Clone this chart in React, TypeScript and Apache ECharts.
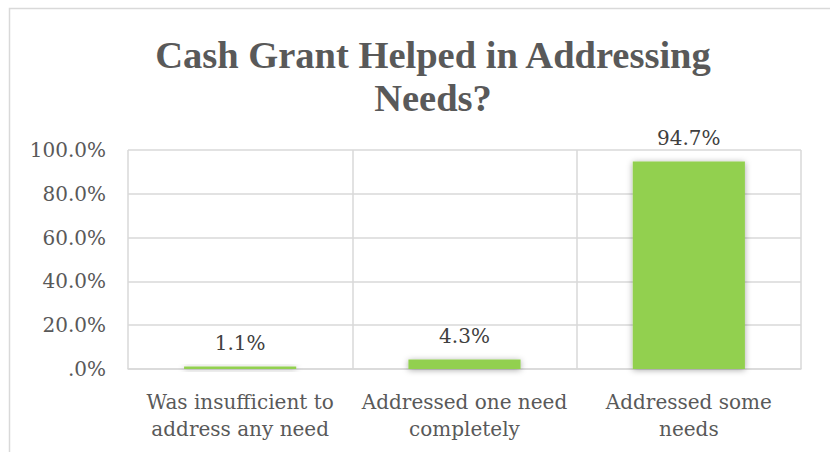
import React, { useEffect, useRef } from "react";
import * as echarts from "echarts";

const titleLines = ["Cash Grant Helped in Addressing", "Needs?"];
const categories = [
  "Was insufficient to\naddress any need",
  "Addressed one need\ncompletely",
  "Addressed some\nneeds",
];
const values = [0.011, 0.043, 0.947];
const yTicks = [0, 0.2, 0.4, 0.6, 0.8, 1.0];

const fmtPct = (v: number) => {
  const s = (v * 100).toFixed(1) + "%";
  return s.startsWith("0.") ? s.slice(1) : s;
};

const REG = "'DejaVu Serif', serif";
const BOLD = "'Liberation Serif', serif";

export default function App() {
  const ref = useRef<HTMLDivElement>(null);
  useEffect(() => {
    if (!ref.current) return;
    const chart = echarts.init(ref.current, undefined, { renderer: "svg" });
    chart.setOption({
      animation: false,
      backgroundColor: "#ffffff",
      graphic: [
        {
          type: "rect",
          shape: { x: 9.5, y: 8.5, width: 1000, height: 800 },
          style: { fill: "none", stroke: "#D9D9D9", lineWidth: 1.5 },
          silent: true,
        },
      ],
      title: {
        text: titleLines.join("\n"),
        left: 428,
        top: 28,
        textAlign: "center",
        textStyle: {
          fontFamily: BOLD,
          fontWeight: "bold",
          fontSize: 38.5,
          lineHeight: 43,
          color: "#595959",
        },
      },
      grid: { left: 128, right: 29, top: 150, bottom: 83, containLabel: false },
      xAxis: {
        type: "category",
        data: categories,
        axisTick: { show: false },
        axisLine: { show: true, lineStyle: { color: "#D9D9D9", width: 1.5 } },
        splitLine: { show: true, lineStyle: { color: "#D9D9D9", width: 1.5 } },
        axisLabel: {
          interval: 0,
          margin: 19,
          fontFamily: REG,
          fontSize: 20,
          lineHeight: 27,
          color: "#595959",
        },
      },
      yAxis: {
        type: "value",
        min: 0,
        max: 1,
        interval: 0.2,
        axisLine: { show: false },
        axisTick: { show: false },
        splitLine: { show: true, lineStyle: { color: "#D9D9D9", width: 1.5 } },
        axisLabel: {
          margin: 22,
          fontFamily: REG,
          fontSize: 20,
          color: "#595959",
          padding: [8, 0, 0, 0],
          formatter: (v: number) => (yTicks.some((t) => Math.abs(t - v) < 1e-9) ? fmtPct(v) : ""),
        },
      },
      series: [
        {
          type: "bar",
          data: values,
          barWidth: "50%",
          itemStyle: {
            color: "#92D050",
            shadowBlur: 6,
            shadowColor: "rgba(0,0,0,0.35)",
            shadowOffsetX: 0,
            shadowOffsetY: 1,
          },
          label: {
            show: true,
            position: "top",
            distance: 14,
            fontFamily: REG,
            fontSize: 20,
            color: "#404040",
            formatter: (p: any) => fmtPct(p.value),
          },
        },
      ],
    });
    return () => chart.dispose();
  }, []);
  return (
    <div
      ref={ref}
      style={{ position: "fixed", left: 0, top: 0, width: 830, height: 452 }}
    />
  );
}
